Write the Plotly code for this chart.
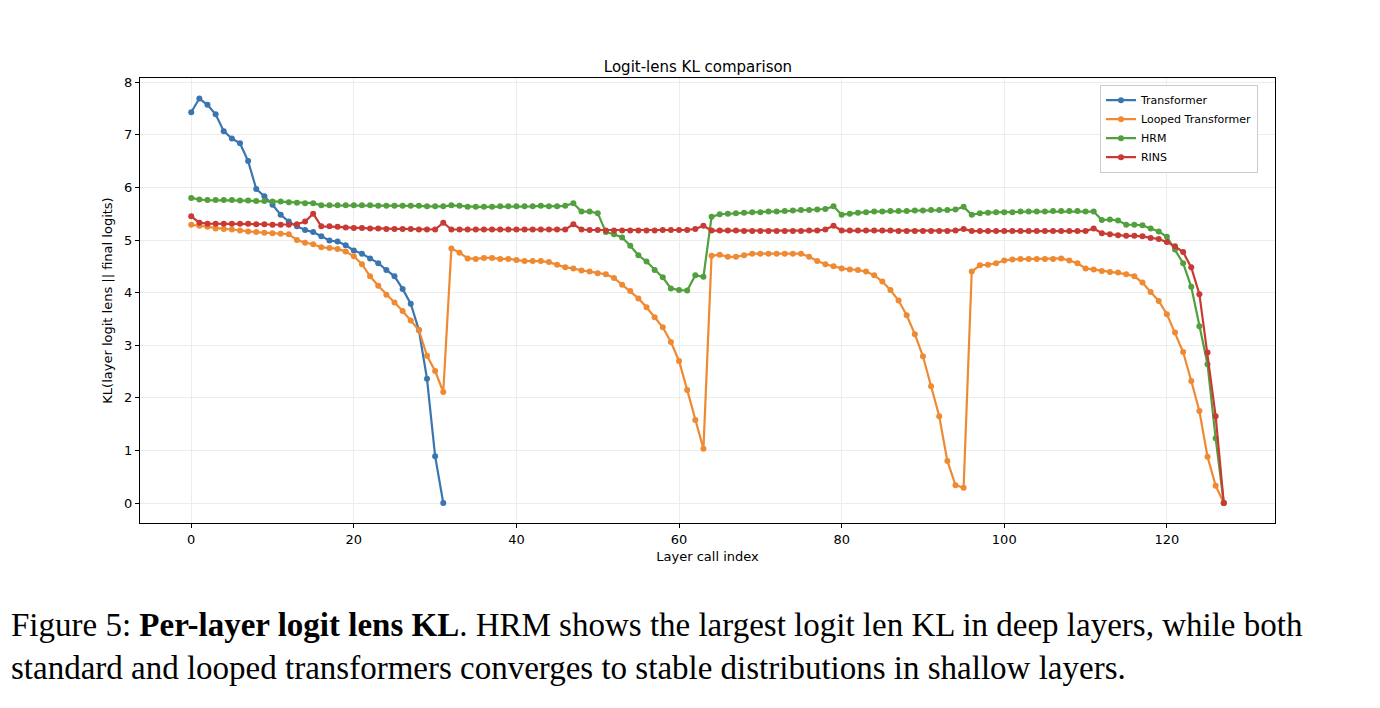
import plotly.graph_objects as go

transformer = [7.43, 7.69, 7.57, 7.39, 7.07, 6.93, 6.84, 6.50, 5.97, 5.83, 5.67, 5.48, 5.35, 5.26, 5.19, 5.15,
               5.07, 4.99, 4.97, 4.90, 4.80, 4.74, 4.65, 4.56, 4.43, 4.31, 4.07, 3.79, 3.29, 2.36, 0.89, 0.0]

looped = [5.29, 5.27, 5.25, 5.22, 5.21, 5.20, 5.18, 5.16, 5.15, 5.14, 5.13, 5.12, 5.11,
          5.00, 4.95, 4.92, 4.86, 4.85, 4.83, 4.78, 4.69, 4.54, 4.31, 4.13, 3.96, 3.81, 3.65, 3.47, 3.29, 2.80, 2.51, 2.11,
          4.84, 4.76, 4.65, 4.64, 4.66, 4.66, 4.64, 4.64, 4.62, 4.60, 4.60, 4.60, 4.58, 4.53,
          4.48, 4.46, 4.42, 4.40, 4.37, 4.35, 4.28, 4.15, 4.03, 3.89, 3.72, 3.53, 3.34, 3.06, 2.70, 2.15, 1.58, 1.03,
          4.70, 4.72, 4.68, 4.68, 4.71, 4.74, 4.74, 4.74, 4.74, 4.74, 4.74, 4.74, 4.68, 4.60, 4.54, 4.50,
          4.46, 4.44, 4.43, 4.40, 4.33, 4.21, 4.05, 3.85, 3.57, 3.21, 2.79, 2.22, 1.65, 0.80, 0.34,
          0.29, 4.40, 4.52, 4.53, 4.56, 4.61, 4.63, 4.64, 4.64, 4.64, 4.64, 4.64, 4.65,
          4.61, 4.56, 4.46, 4.44, 4.41, 4.39, 4.38, 4.35, 4.31,
          4.19, 4.01, 3.84, 3.59, 3.24, 2.87, 2.32, 1.75, 0.88, 0.33, 0.0]

hrm = [5.80, 5.77, 5.76, 5.76, 5.76, 5.76, 5.75, 5.75, 5.74, 5.74, 5.73, 5.73, 5.72, 5.71, 5.70, 5.70,
       5.66, 5.66, 5.66, 5.66, 5.66,
       5.66, 5.66, 5.65, 5.65, 5.65, 5.65, 5.65, 5.65, 5.64, 5.64, 5.64, 5.66, 5.65, 5.63, 5.63, 5.63,
       5.63, 5.64, 5.64, 5.64, 5.64, 5.64, 5.65, 5.64, 5.64,
       5.65, 5.70, 5.54, 5.54, 5.51, 5.15, 5.11, 5.05, 4.89, 4.71, 4.59, 4.43, 4.29, 4.08, 4.05, 4.04, 4.33, 4.30,
       5.44, 5.49, 5.50, 5.51, 5.52, 5.53, 5.53, 5.54, 5.54, 5.55, 5.56, 5.57, 5.57, 5.58, 5.59, 5.64,
       5.48, 5.50, 5.52, 5.53, 5.54, 5.54, 5.55, 5.55, 5.55, 5.56, 5.56, 5.57, 5.57, 5.57, 5.58, 5.63,
       5.48, 5.51, 5.52, 5.53, 5.53, 5.53, 5.54, 5.54, 5.54, 5.54, 5.55, 5.55, 5.55, 5.55, 5.54, 5.54,
       5.38, 5.39, 5.37, 5.29, 5.29, 5.28, 5.22, 5.16, 5.06, 4.82, 4.56, 4.11, 3.36, 2.64, 1.23, 0.0]

rins = [5.45, 5.33, 5.31, 5.31, 5.31, 5.31, 5.31, 5.31, 5.30, 5.30, 5.29, 5.29, 5.29, 5.30, 5.35,
        5.50, 5.26, 5.26, 5.25, 5.24, 5.23, 5.23, 5.22, 5.22, 5.21, 5.21, 5.21, 5.21, 5.20, 5.20, 5.20,
        5.33, 5.20, 5.20, 5.20, 5.20, 5.20, 5.20, 5.20, 5.20, 5.20, 5.20, 5.20, 5.20, 5.20, 5.20, 5.20,
        5.30, 5.20, 5.19, 5.19, 5.18, 5.18, 5.18, 5.18, 5.18, 5.18, 5.18, 5.19, 5.19, 5.19, 5.19, 5.21,
        5.27, 5.18, 5.18, 5.18, 5.18, 5.17, 5.17, 5.17, 5.17, 5.17, 5.17, 5.17, 5.17, 5.18, 5.18, 5.20,
        5.27, 5.18, 5.18, 5.18, 5.18, 5.18, 5.18, 5.18, 5.17, 5.17, 5.17, 5.17, 5.17, 5.17, 5.17, 5.18,
        5.21, 5.17, 5.17, 5.17, 5.17, 5.17, 5.17, 5.17, 5.17, 5.17, 5.17, 5.17, 5.17, 5.17, 5.17, 5.17,
        5.22, 5.13, 5.11, 5.09, 5.08, 5.08, 5.07, 5.04, 5.02, 4.96, 4.88, 4.77, 4.48, 3.97, 2.86, 1.65, 0.0]

series = [("Transformer", transformer, "#3a75b0"),
          ("Looped Transformer", looped, "#ef8a33"),
          ("HRM", hrm, "#51a03d"),
          ("RINS", rins, "#c93a35")]

fig = go.Figure()
for name, vals, color in series:
    fig.add_trace(go.Scatter(x=list(range(len(vals))), y=vals, name=name, mode="lines+markers",
                             line=dict(color=color, width=2.2), marker=dict(size=6, color=color)))

axis_style = dict(showline=True, linecolor="black", linewidth=1, mirror=True, ticks="outside",
                  ticklen=4, tickcolor="black", gridcolor="#ececec", zeroline=False,
                  tickfont=dict(size=13, color="black"))

fig.update_layout(
    width=1380, height=708, plot_bgcolor="white", paper_bgcolor="white",
    font=dict(family="DejaVu Sans", color="black"),
    margin=dict(l=132, r=113, t=70, b=193),
    title=dict(text="Logit-lens KL comparison", x=0.5, y=0.925, xanchor="center", font=dict(size=15)),
    xaxis=dict(axis_style, range=[-6.3, 133.3], tickvals=[0, 20, 40, 60, 80, 100, 120],
               title=dict(text="Layer call index", font=dict(size=13), standoff=6)),
    yaxis=dict(axis_style, range=[-0.38, 8.08], tickvals=list(range(9)),
               title=dict(text="KL(layer logit lens || final logits)", font=dict(size=13), standoff=8)),
    legend=dict(x=0.985, y=0.985, xanchor="right", yanchor="top", bgcolor="white",
                bordercolor="#cccccc", borderwidth=1, font=dict(size=11)),
)

fig.add_annotation(xref="paper", yref="paper", x=-0.115, y=-0.185, xanchor="left", yanchor="top",
                   showarrow=False, align="left",
                   font=dict(family="Liberation Serif", size=33, color="black"),
                   text="Figure 5: <b>Per-layer logit lens KL</b>. HRM shows the largest logit len KL in deep layers, while both<br>"
                        "standard and looped transformers converges to stable distributions in shallow layers.")

fig.write_html("out.html")
